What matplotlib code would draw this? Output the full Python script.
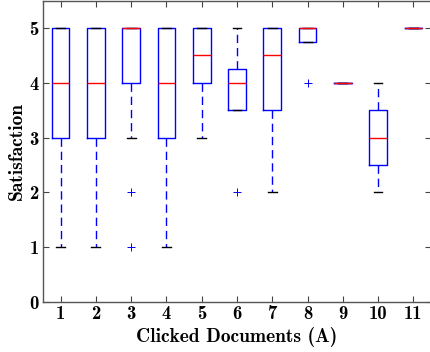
import matplotlib
matplotlib.use('Agg')
import matplotlib.pyplot as plt

plt.rcParams['font.family'] = ['cmb10', 'DejaVu Serif']

positions = [1, 2, 3, 4, 5, 6, 7, 8, 9, 10, 11]
medians = [4, 4, 5, 4, 4.5, 4, 4.5, 5, 4, 3, 5]
q1s = [3, 3, 4, 3, 4, 3.5, 3.5, 4.75, 4, 2.5, 5]
q3s = [5, 5, 5, 5, 5, 4.25, 5, 5, 4, 3.5, 5]
whislos = [1, 1, 3, 1, 3, 3.5, 2, 4.75, 4, 2, 5]
whishis = [5, 5, 5, 5, 5, 5, 5, 5, 4, 4, 5]
fliers = [[], [], [2, 1], [], [], [2], [], [4], [], [], []]

stats = []
for i in range(len(positions)):
    stats.append({'med': medians[i], 'q1': q1s[i], 'q3': q3s[i],
                  'whislo': whislos[i], 'whishi': whishis[i], 'fliers': fliers[i]})

fig = plt.figure(figsize=(4.31, 3.52), dpi=100)
ax = fig.add_axes([43 / 431, 50 / 352, 388 / 431, 301.5 / 352])

ax.bxp(stats, positions=positions, widths=0.5,
       boxprops=dict(color='blue', linewidth=1),
       whiskerprops=dict(color='blue', linestyle=(0, (6, 3.5)), linewidth=1),
       capprops=dict(color='black', linewidth=1),
       medianprops=dict(color='red', linewidth=1),
       flierprops=dict(marker='+', markeredgecolor='blue', markersize=6,
                       markeredgewidth=0.7, linestyle='none'))

ax.set_xlim(0.5, 11.5)
ax.set_ylim(0, 5.5)
ax.set_yticks([0, 1, 2, 3, 4, 5])
ax.set_xticks(positions)
ax.set_xticklabels([str(p) for p in positions], fontsize=13.5)
ax.set_yticklabels([str(v) for v in range(6)], fontsize=13.5)
ax.tick_params(direction='in', top=True, right=True, length=4, color='#444444')
ax.tick_params(axis='x', pad=2)
ax.tick_params(axis='y', pad=3)
for s in ax.spines.values():
    s.set_color('#555555')
    s.set_linewidth(1)

ax.set_xlabel('Clicked Documents (A)', fontsize=14)
ax.set_ylabel('Satisfaction', fontsize=14)
ax.xaxis.set_label_coords(0.5, -40 / 301.5)
ax.xaxis.label.set_va('baseline')
ax.yaxis.set_label_coords(-26 / 388, 0.5)
ax.yaxis.label.set_va('center')

fig.savefig('out.png', dpi=100)
